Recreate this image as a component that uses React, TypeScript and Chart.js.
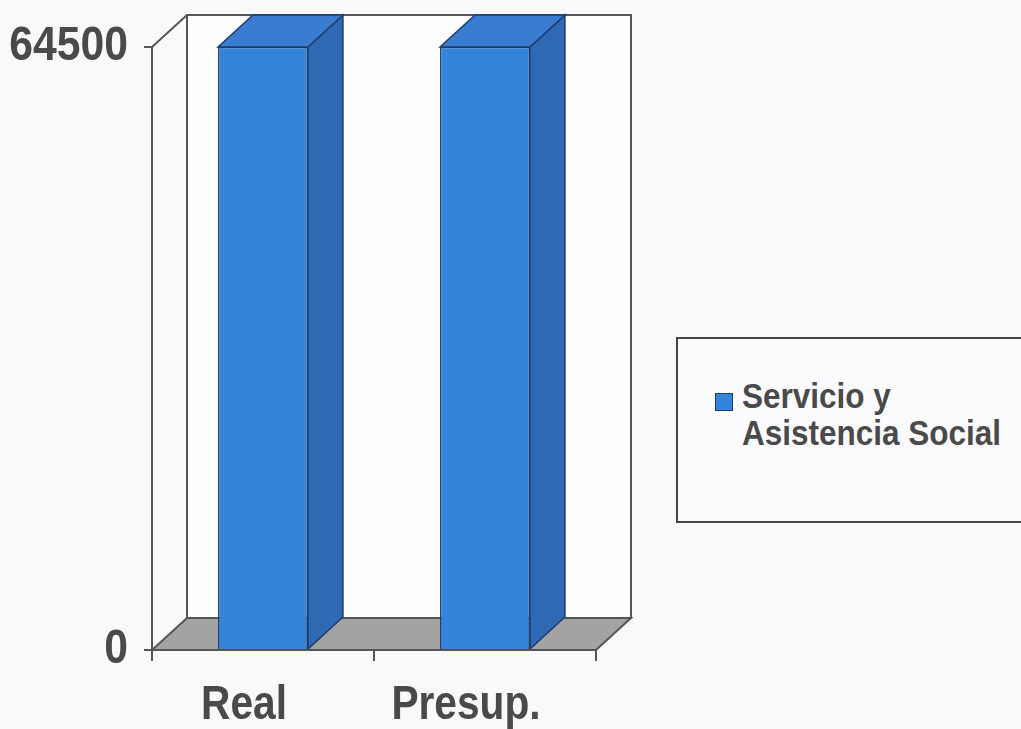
import React, { useEffect, useRef } from "react";
import { Chart, registerables } from "chart.js";

Chart.register(...registerables);

const categories = ["Real", "Presup."];
const seriesName = ["Servicio y", "Asistencia Social"];
const seriesValues = [64500, 64500];
const yTickValues = [0, 64500];

const FONT = "'Liberation Sans', Arial, sans-serif";
const TEXT = "#4a4a4a";
const LINE = "#555555";
const FRONT = "#3584dc";
const SIDE = "#2f69b4";
const TOP = "#3a7ccf";
const EDGE = "#1d3d6e";
const FLOOR = "#a3a3a3";
const DX = 35;
const DY = -32;

// The reference uses a condensed face; squeeze canvas text horizontally.
const condensedText = {
  id: "condensedText",
  beforeDraw(chart: any) {
    const ctx = chart.ctx;
    const orig = ctx.fillText;
    chart.$origFillText = orig;
    ctx.fillText = function (text: string, x: number, y: number) {
      const sx = /^\d+$/.test(String(text)) ? 0.89 : 0.83;
      this.save();
      this.translate(x, y);
      this.scale(sx, 1);
      orig.call(this, text, 0, 0);
      this.restore();
    };
  },
  afterDraw(chart: any) {
    if (chart.$origFillText) chart.ctx.fillText = chart.$origFillText;
  },
};

const threeD = {
  id: "threeD",
  beforeDatasetsDraw(chart: any) {
    const { ctx } = chart;
    const x = chart.scales.x;
    const y = chart.scales.y;
    const l = x.left, r = x.right, b = y.getPixelForValue(0), t = y.getPixelForValue(64500);
    ctx.save();
    ctx.fillStyle = "#fdfdfe";
    ctx.strokeStyle = LINE;
    ctx.lineWidth = 2;
    ctx.beginPath();
    ctx.rect(l + DX, t + DY, r - l, b - t);
    ctx.fill();
    ctx.stroke();
    ctx.beginPath();
    ctx.moveTo(l, t);
    ctx.lineTo(l + DX, t + DY);
    ctx.stroke();
    ctx.fillStyle = FLOOR;
    ctx.beginPath();
    ctx.moveTo(l, b);
    ctx.lineTo(r, b);
    ctx.lineTo(r + DX, b + DY);
    ctx.lineTo(l + DX, b + DY);
    ctx.closePath();
    ctx.fill();
    ctx.stroke();
    ctx.restore();
  },
  afterDatasetsDraw(chart: any) {
    const { ctx } = chart;
    const meta = chart.getDatasetMeta(0);
    ctx.save();
    ctx.lineWidth = 1.5;
    ctx.strokeStyle = EDGE;
    meta.data.forEach((bar: any) => {
      const { x, y, base, width } = bar.getProps(["x", "y", "base", "width"], true);
      const l = x - width / 2, r = x + width / 2;
      ctx.fillStyle = SIDE;
      ctx.beginPath();
      ctx.moveTo(r, base);
      ctx.lineTo(r, y);
      ctx.lineTo(r + DX, y + DY);
      ctx.lineTo(r + DX, base + DY);
      ctx.closePath();
      ctx.fill();
      ctx.stroke();
      ctx.fillStyle = TOP;
      ctx.beginPath();
      ctx.moveTo(l, y);
      ctx.lineTo(r, y);
      ctx.lineTo(r + DX, y + DY);
      ctx.lineTo(l + DX, y + DY);
      ctx.closePath();
      ctx.fill();
      ctx.stroke();
    });
    const xs = chart.scales.x;
    const b = chart.scales.y.getPixelForValue(0);
    ctx.strokeStyle = LINE;
    ctx.lineWidth = 2;
    ctx.beginPath();
    ctx.moveTo(xs.left, b);
    ctx.lineTo(xs.right, b);
    ctx.stroke();
    ctx.restore();
  },
};

export default function App() {
  const ref = useRef<HTMLCanvasElement | null>(null);
  useEffect(() => {
    document.body.style.margin = "0";
    document.body.style.background = "#f9f9fb";
    const chart = new Chart(ref.current as HTMLCanvasElement, {
      type: "bar",
      data: {
        labels: categories,
        datasets: [
          {
            label: seriesName.join(" "),
            data: seriesValues,
            backgroundColor: FRONT,
            borderColor: EDGE,
            borderWidth: 1.5,
            barPercentage: 0.405,
            categoryPercentage: 1,
          },
        ],
      },
      options: {
        responsive: false,
        animation: false,
        maintainAspectRatio: false,
        layout: { padding: { top: 47, right: 425, left: 0, bottom: 0 } },
        plugins: { legend: { display: false }, tooltip: { enabled: false } },
        scales: {
          x: {
            offset: true,
            grid: { drawOnChartArea: false, drawTicks: true, tickLength: 11, color: LINE, lineWidth: 2, offset: true },
            border: { color: LINE, width: 2 },
            ticks: { color: TEXT, font: { family: FONT, size: 49, weight: "bold" }, padding: 15, labelOffset: -19 },
            afterFit: (s: any) => { s.height = 79; },
          },
          y: {
            min: 0,
            max: 64500,
            afterBuildTicks: (s: any) => { s.ticks = yTickValues.map((v) => ({ value: v })); },
            grid: { drawOnChartArea: false, drawTicks: true, tickLength: 8, color: LINE, lineWidth: 2 },
            border: { color: LINE, width: 2 },
            ticks: {
              color: TEXT,
              font: { family: FONT, size: 48, weight: "bold" },
              padding: 16,
              callback: (v: any) => String(v),
            },
            afterFit: (s: any) => { s.width = 152; },
          },
        },
      },
      plugins: [threeD, condensedText],
    });
    return () => chart.destroy();
  }, []);
  return (
    <div style={{ position: "relative", width: 1021, height: 729, overflow: "hidden" }}>
      <canvas ref={ref} width={1021} height={729} style={{ width: 1021, height: 729, display: "block" }} />
      <div
        style={{
          position: "absolute",
          left: 676,
          top: 337,
          width: 380,
          height: 186,
          border: "2px solid #444",
          background: "#fbfbfd",
          boxSizing: "border-box",
        }}
      >
        <div
          style={{
            position: "absolute",
            left: 37,
            top: 54,
            width: 18,
            height: 18,
            background: FRONT,
            border: "1px solid " + EDGE,
            boxSizing: "border-box",
          }}
        />
        <div
          style={{
            position: "absolute",
            left: 64,
            top: 38,
            fontFamily: FONT,
            fontWeight: "bold",
            fontSize: 35,
            lineHeight: "37px",
            color: TEXT,
            whiteSpace: "nowrap",
            transform: "scaleX(0.9)",
            transformOrigin: "0 0",
          }}
        >
          {seriesName.map((s, i) => (
            <div key={i}>{s}</div>
          ))}
        </div>
      </div>
    </div>
  );
}
